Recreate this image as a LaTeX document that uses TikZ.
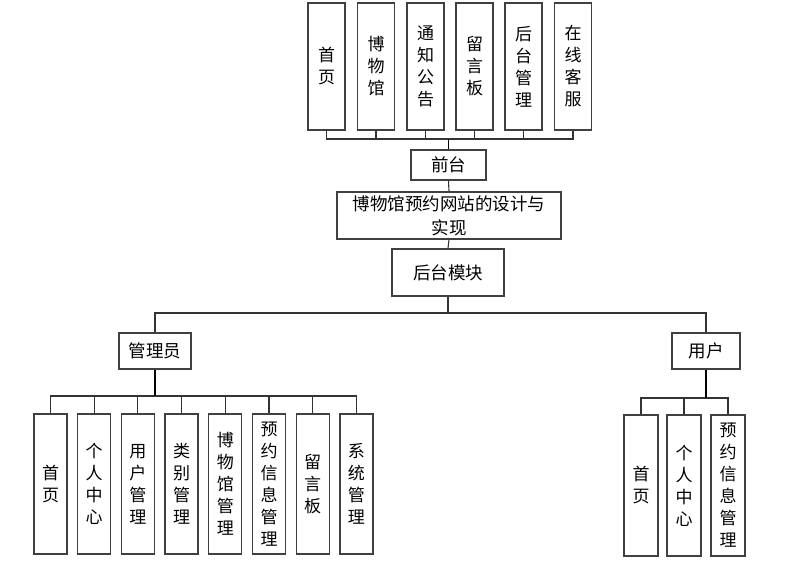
\documentclass[tikz,border=0pt]{standalone}
\usepackage{fontspec}
\newfontfamily\cjk{Noto Sans CJK SC}
\begin{document}
\begin{tikzpicture}[x=1pt,y=-1pt,
  box/.style={draw=black!75, line width=1.25pt, inner sep=0pt, align=center, text=black, fill=white,
              font=\cjk\fontsize{17}{22}\selectfont},
  topbox/.style={box, minimum width=37pt, minimum height=127pt},
  abox/.style={box, minimum width=33pt, minimum height=140pt},
  ubox/.style={box, minimum width=34pt, minimum height=141pt},
  hbox/.style={box, font=\cjk\fontsize{17.5}{24}\selectfont},
  conn/.style={draw=black!80, line width=1.1pt},
  trunk/.style={draw=black, line width=1.6pt}]
\useasboundingbox (0,0) rectangle (800,564);
% top row
\node[topbox] (t1) at (326.5,66.5) {首\\页};
\node[topbox] (t2) at (376,66.5) {博\\物\\馆};
\node[topbox] (t3) at (425.5,66.5) {通\\知\\公\\告};
\node[topbox] (t4) at (474.5,66.5) {留\\言\\板};
\node[topbox] (t5) at (523.5,66.5) {后\\台\\管\\理};
\node[topbox] (t6) at (573,66.5) {在\\线\\客\\服};
\node[hbox, minimum width=75pt, minimum height=30pt] (qt) at (448.5,165) {前台};
\node[hbox, minimum width=224pt, minimum height=47pt] (main) at (449,215.5) {博物馆预约网站的设计与\\实现};
\node[hbox, minimum width=112pt, minimum height=47pt] (ht) at (448,272.5) {后台模块};
\node[hbox, minimum width=72pt, minimum height=36pt] (gly) at (155,351) {管理员};
\node[hbox, minimum width=68pt, minimum height=36pt] (yh) at (706,351) {用户};
% admin children
\node[abox] (a1) at (50.5,484) {首\\页};
\node[abox] (a2) at (94.2,484) {个\\人\\中\\心};
\node[abox] (a3) at (137.9,484) {用\\户\\管\\理};
\node[abox] (a4) at (181.6,484) {类\\别\\管\\理};
\node[abox] (a5) at (225.3,484) {博\\物\\馆\\管\\理};
\node[abox] (a6) at (269,484) {预\\约\\信\\息\\管\\理};
\node[abox] (a7) at (312.7,484) {留\\言\\板};
\node[abox] (a8) at (356.4,484) {系\\统\\管\\理};
% user children
\node[ubox] (u1) at (641,485.5) {首\\页};
\node[ubox] (u2) at (684,485.5) {个\\人\\中\\心};
\node[ubox] (u3) at (728,485.5) {预\\约\\信\\息\\管\\理};
% connectors
\coordinate (tb) at (448.5,139);
\foreach \n in {t1,t2,t3,t4,t5,t6} \draw[conn] (\n.south) |- (tb);
\draw[trunk] (tb) -- (qt.north);
\draw[conn] (qt.south) -- (main.north);
\draw[conn] (main.south) -- (ht.north);
\coordinate (mb) at (448,313);
\draw[conn] (ht.south) -- (mb);
\draw[conn] (mb) -| (gly.north);
\draw[conn] (mb) -| (yh.north);
\coordinate (ab) at (155,396);
\foreach \n in {a1,a2,a3,a4,a5,a6,a7,a8} \draw[conn] (\n.north) |- (ab);
\draw[trunk] (gly.south) -- (ab);
\coordinate (ub) at (706,398);
\foreach \n in {u1,u2,u3} \draw[conn] (\n.north) |- (ub);
\draw[trunk] (yh.south) -- (ub);
\end{tikzpicture}
\end{document}
